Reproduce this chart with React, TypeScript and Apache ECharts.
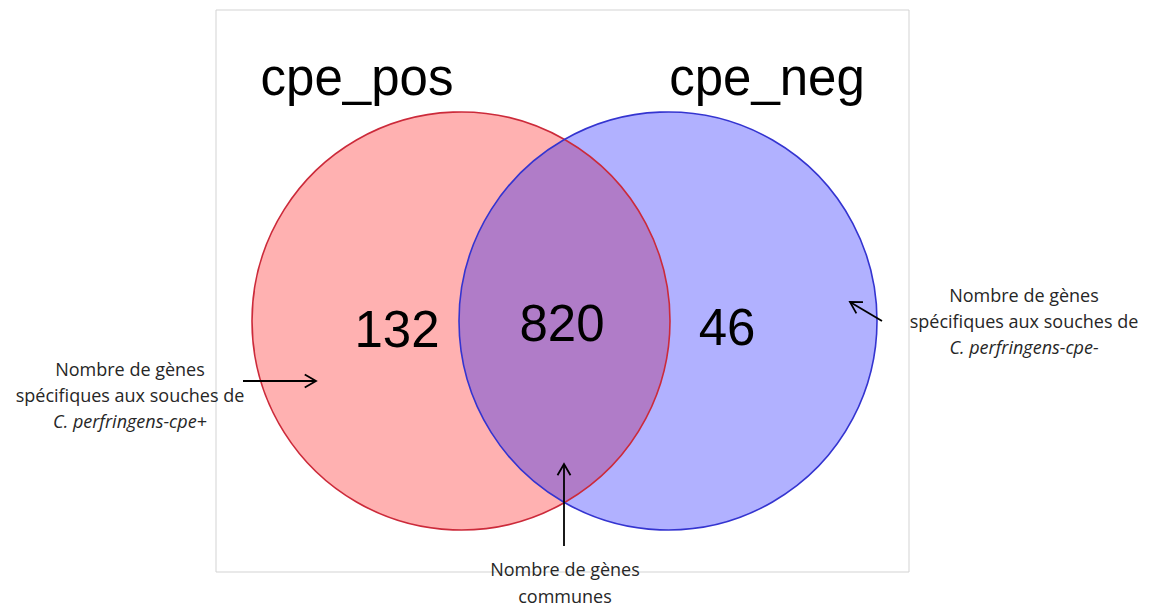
import React, { useEffect, useRef } from "react";
import * as echarts from "echarts";

// ---- data ----
const setNames = ["cpe_pos", "cpe_neg"];
const uniqueCounts = [132, 46];
const sharedCount = 820;
const leftNote = ["Nombre de gènes", "spécifiques aux souches de", "C. perfringens-cpe+"];
const rightNote = ["Nombre de gènes", "spécifiques aux souches de", "C. perfringens-cpe-"];
const bottomNote = ["Nombre de gènes", "communes"];

// ---- layout (plot units = px inside the frame) ----
const FRAME = { left: 216, top: 10, width: 693, height: 562 };
const RADIUS = 209;
const CENTERS = [
  [245, 311],
  [452, 311],
];
const NAME_POS = [
  [141, 67],
  [551, 67],
];
const COUNT_POS = [
  [181, 319],
  [511, 317],
];
const SHARED_POS = [346, 313];

const FILLS = ["#FFB1B1", "#B1B1FF"];
const STROKES = ["#CC2A3A", "#3434D0"];
const LENS_FILL = "#B07CC8";
const NOTE_FONT = '"Open Sans", "Noto Sans", sans-serif';
const NOTE_COLOR = "#262626";

function arrow(x1: number, y1: number, x2: number, y2: number) {
  const ang = Math.atan2(y2 - y1, x2 - x1);
  const L = 13;
  const a = (30 * Math.PI) / 180;
  const p1 = [x2 - L * Math.cos(ang - a), y2 - L * Math.sin(ang - a)];
  const p2 = [x2 - L * Math.cos(ang + a), y2 - L * Math.sin(ang + a)];
  const st = { stroke: "#000", lineWidth: 1.8, fill: "none" };
  return [
    { type: "line", z: 100, shape: { x1, y1, x2, y2 }, style: st },
    { type: "polyline", z: 100, shape: { points: [p1, [x2, y2], p2] }, style: st },
  ];
}

function noteBlock(lines: string[], cx: number, y0: number, dy: number, italicLast: boolean) {
  return lines.map((t, i) => ({
    type: "text",
    z: 100,
    x: cx,
    y: y0 + i * dy,
    style: {
      text: t,
      fill: NOTE_COLOR,
      font: `${italicLast && i === lines.length - 1 ? "italic " : ""}18px ${NOTE_FONT}`,
      textAlign: "center",
      textVerticalAlign: "middle",
    },
  }));
}

export default function App() {
  const ref = useRef<HTMLDivElement>(null);
  useEffect(() => {
    if (!ref.current) return;
    const chart = echarts.init(ref.current, undefined, { renderer: "svg" });

    const circleData = CENTERS.map((c, i) => [c[0], c[1], RADIUS, i]);

    const option: any = {
      animation: false,
      backgroundColor: "#ffffff",
      grid: {
        left: FRAME.left,
        top: FRAME.top,
        width: FRAME.width,
        height: FRAME.height,
        show: true,
        borderColor: "#d3d3d3",
        borderWidth: 1,
        backgroundColor: "transparent",
      },
      xAxis: { type: "value", min: 0, max: FRAME.width, show: false },
      yAxis: { type: "value", min: 0, max: FRAME.height, inverse: true, show: false },
      series: [
        {
          type: "custom",
          name: "fills",
          data: circleData,
          renderItem: (params: any, api: any) => {
            const i = params.dataIndex;
            const c = api.coord([api.value(0), api.value(1)]);
            const r = api.size([api.value(2), 0])[0];
            return {
              type: "circle",
              shape: { cx: c[0], cy: c[1], r },
              style: { fill: FILLS[i], stroke: "none" },
            };
          },
          z: 1,
        },
        {
          type: "custom",
          name: "lens",
          data: [[0]],
          renderItem: (params: any, api: any) => {
            const a = api.coord([CENTERS[0][0], CENTERS[0][1]]);
            const b = api.coord([CENTERS[1][0], CENTERS[1][1]]);
            const r = api.size([RADIUS, 0])[0];
            const d = Math.hypot(b[0] - a[0], b[1] - a[1]);
            const mx = (a[0] + b[0]) / 2;
            const h = Math.sqrt(r * r - (d / 2) * (d / 2));
            const top = [mx, a[1] - h];
            const bot = [mx, a[1] + h];
            const path = `M${top[0]} ${top[1]} A${r} ${r} 0 0 1 ${bot[0]} ${bot[1]} A${r} ${r} 0 0 1 ${top[0]} ${top[1]} Z`;
            return {
              type: "path",
              shape: { pathData: path },
              style: { fill: LENS_FILL, stroke: "none" },
            };
          },
          z: 2,
        },
        {
          type: "custom",
          name: "outlines",
          data: circleData,
          renderItem: (params: any, api: any) => {
            const i = params.dataIndex;
            const c = api.coord([api.value(0), api.value(1)]);
            const r = api.size([api.value(2), 0])[0];
            return {
              type: "circle",
              shape: { cx: c[0], cy: c[1], r },
              style: { fill: "none", stroke: STROKES[i], lineWidth: 1.6 },
            };
          },
          z: 3,
        },
        {
          type: "custom",
          name: "labels",
          data: [
            ...setNames.map((n, i) => [NAME_POS[i][0], NAME_POS[i][1], n]),
            ...uniqueCounts.map((v, i) => [COUNT_POS[i][0], COUNT_POS[i][1], String(v)]),
            [SHARED_POS[0], SHARED_POS[1], String(sharedCount)],
          ],
          renderItem: (params: any, api: any) => {
            const p = api.coord([api.value(0), api.value(1)]);
            return {
              type: "text",
              x: p[0],
              y: p[1],
              style: {
                text: String(api.value(2)),
                fill: "#000",
                font: '51px "Liberation Sans", Arial, sans-serif',
                textAlign: "center",
                textVerticalAlign: "middle",
              },
            };
          },
          z: 4,
        },
      ],
      graphic: [
        ...noteBlock(leftNote, 130, 369, 26, true),
        ...noteBlock(rightNote, 1024, 295, 26, true),
        ...noteBlock(bottomNote, 565, 569, 27, false),
        ...arrow(243, 381, 316, 381),
        ...arrow(882, 321, 850, 302),
        ...arrow(564, 546, 564, 464),
      ],
    };
    chart.setOption(option);
    return () => chart.dispose();
  }, []);

  return (
    <div
      ref={ref}
      style={{ position: "fixed", left: 0, top: 0, width: 1154, height: 607 }}
    />
  );
}
